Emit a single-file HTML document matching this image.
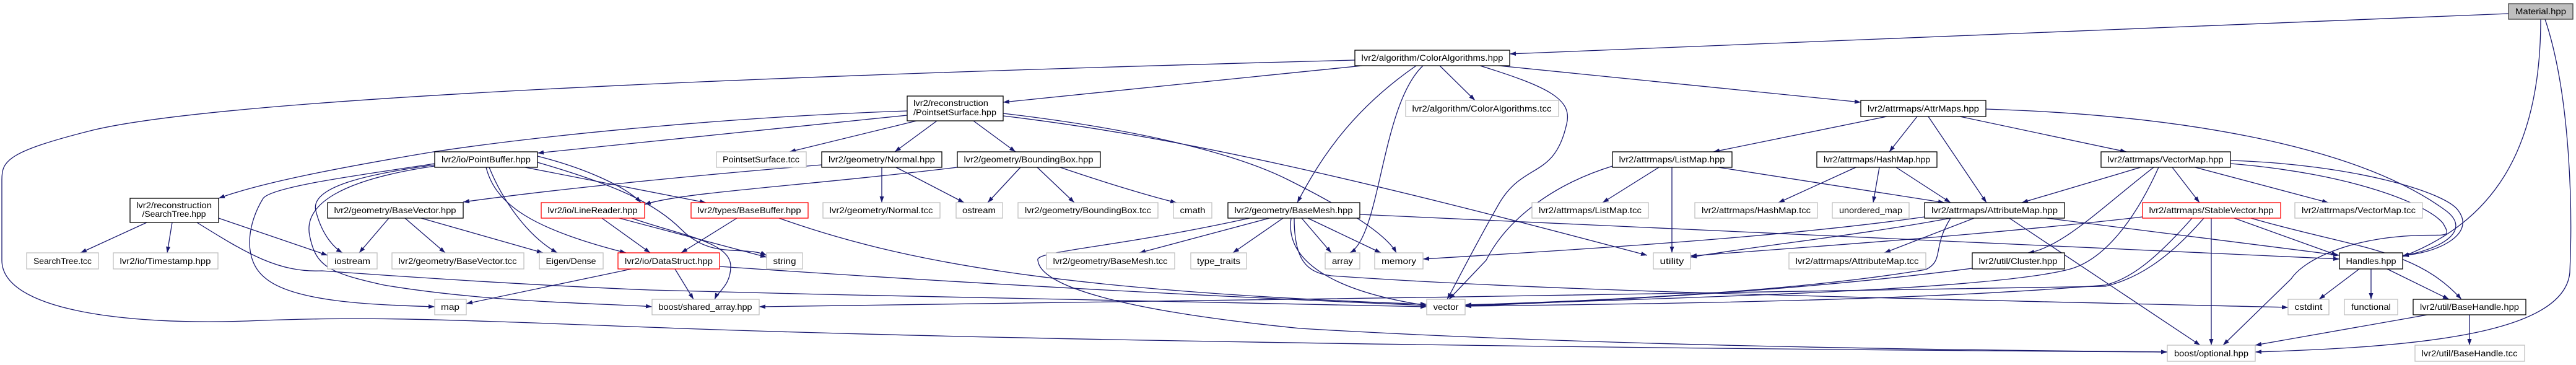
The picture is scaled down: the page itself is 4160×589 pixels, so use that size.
<!DOCTYPE html>
<html><head><meta charset="utf-8"><style>
html,body{margin:0;padding:0;background:#fff;}
svg{display:block;}
text{font-family:"Liberation Sans",sans-serif;font-size:13.5px;fill:#000;}
.e{fill:none;stroke:#191970;stroke-width:1.3;marker-end:url(#a);}
.nb{fill:#fff;stroke:#000;stroke-width:1.3;}
.ng{fill:#fff;stroke:#bfbfbf;stroke-width:1.3;}
.nr{fill:#fff;stroke:#ff0000;stroke-width:1.3;}
</style></head><body>
<svg width="4160" height="589" viewBox="0 0 4160 589" xmlns="http://www.w3.org/2000/svg">
<defs><marker id="a" markerUnits="userSpaceOnUse" markerWidth="11" markerHeight="8" refX="10" refY="3.5" orient="auto"><path d="M0,0 L10,3.5 L0,7 z" fill="#191970"/></marker></defs>

<!-- edges -->
<path class="e" d="M4051,22 L2438,87"/>
<path class="e" d="M4103,31 C4103,250 4020,360 3880,414"/>
<path class="e" d="M4110,31 C4150,150 4155,330 4150,440 C4140,540 3900,560 3642,568"/>
<path class="e" d="M2200,106 L1620,165"/>
<path class="e" d="M2188,97 C1500,115 400,150 150,210 C10,245 3,260 3,290 L3,420 C3,500 200,525 400,518 C600,510 700,515 1100,530 C1800,555 3000,565 3500,568"/>
<path class="e" d="M2325,106 L2382,162"/>
<path class="e" d="M2287,106 C2180,180 2130,260 2095,327"/>
<path class="e" d="M2298,106 C2230,170 2230,380 2180,408"/>
<path class="e" d="M2390,106 C2500,140 2540,160 2530,200 C2510,290 2460,260 2420,330 C2380,400 2350,460 2337,483"/>
<path class="e" d="M2420,106 L3005,165"/>

<path class="e" d="M1465,179 C1200,188 900,215 700,245 C550,270 420,295 353,320"/>
<path class="e" d="M1465,186 L868,247"/>
<path class="e" d="M1480,195 L1275,245"/>
<path class="e" d="M1513,195 L1445,245"/>
<path class="e" d="M1572,195 L1640,245"/>
<path class="e" d="M1620,183 C1850,210 2000,250 2080,290 C2180,340 2240,380 2255,408"/>
<path class="e" d="M1620,187 C1900,220 2200,290 2660,412"/>

<path class="e" d="M702,264 C600,280 440,300 425,320 C400,360 390,420 430,450 C480,490 620,492 702,495"/>
<path class="e" d="M702,266 C600,280 500,300 510,340 C520,380 540,400 553,408"/>
<path class="e" d="M702,268 C550,290 490,330 500,380 C510,430 530,440 620,460 C800,490 1000,490 1053,495"/>
<path class="e" d="M790,270 C810,320 850,380 900,408"/>
<path class="e" d="M785,270 C800,330 860,370 1011,408"/>
<path class="e" d="M868,252 C940,270 1010,300 1035,327"/>
<path class="e" d="M848,270 L1140,327"/>
<path class="e" d="M868,262 C1000,300 1060,330 1100,370 C1150,420 1200,395 1238,412"/>

<path class="e" d="M628,352 L580,408"/>
<path class="e" d="M654,352 L719,408"/>
<path class="e" d="M680,352 L877,408"/>
<path class="e" d="M237,359 L130,408"/>
<path class="e" d="M278,359 L270,408"/>
<path class="e" d="M353,352 L529,412"/>
<path class="e" d="M318,359 C400,410 450,440 520,437 C700,450 900,462 1050,468 C1500,480 2000,490 2304,495"/>

<path class="e" d="M972,352 L1050,408"/>
<path class="e" d="M1000,352 L1238,415"/>
<path class="e" d="M1020,352 C1100,380 1180,390 1180,430 C1180,460 1160,470 1154,483"/>
<path class="e" d="M1190,352 L1100,408"/>
<path class="e" d="M1258,352 C1450,420 1700,470 2304,491"/>
<path class="e" d="M1020,434 L753,490"/>
<path class="e" d="M1090,434 L1120,483"/>
<path class="e" d="M1162,430 C1600,460 2000,480 2304,493"/>

<path class="e" d="M1424,270 L1424,327"/>
<path class="e" d="M1447,270 L1557,327"/>
<path class="e" d="M1327,266 C1100,285 900,305 748,326"/>
<path class="e" d="M1546,270 C1300,300 1100,310 1041,330"/>
<path class="e" d="M1648,270 L1595,327"/>
<path class="e" d="M1675,270 L1735,327"/>
<path class="e" d="M1712,270 C1800,300 1870,320 1900,327"/>

<path class="e" d="M2050,352 L1840,408"/>
<path class="e" d="M2072,352 L1991,408"/>
<path class="e" d="M2102,352 L2150,408"/>
<path class="e" d="M2112,352 L2230,408"/>
<path class="e" d="M2085,352 C2075,420 2150,470 2304,493"/>
<path class="e" d="M2090,352 C2090,420 2110,440 2150,445 C2500,470 3000,480 3695,496"/>
<path class="e" d="M2196,346 L3778,418"/>
<path class="e" d="M2018,352 C1800,400 1670,405 1676,420 C1680,460 1800,500 2100,530 C2600,560 3200,565 3500,568"/>

<path class="e" d="M2679,270 L2588,327"/>
<path class="e" d="M2700,270 L2700,408"/>
<path class="e" d="M2604,268 C2500,300 2430,360 2400,420 L2340,483"/>
<path class="e" d="M2775,270 L3140,327"/>
<path class="e" d="M2997,270 L2872,327"/>
<path class="e" d="M3035,270 L3025,327"/>
<path class="e" d="M3062,270 L3150,327"/>
<path class="e" d="M3047,188 L2767,245"/>
<path class="e" d="M3096,188 L3051,245"/>
<path class="e" d="M3114,188 L3208,327"/>
<path class="e" d="M3165,188 L3434,245"/>
<path class="e" d="M3207,176 C3500,185 3800,230 3950,340 C3990,370 3950,400 3880,413"/>

<path class="e" d="M3457,270 L3265,327"/>
<path class="e" d="M3478,270 C3400,330 3330,400 3275,408"/>
<path class="e" d="M3486,270 C3450,350 3400,420 3340,435 C3200,470 2700,480 2366,493"/>
<path class="e" d="M3508,270 L3552,327"/>
<path class="e" d="M3545,270 L3760,327"/>
<path class="e" d="M3602,259 C3800,265 3950,310 3970,340 C4000,380 3930,410 3880,412"/>
<path class="e" d="M3602,264 C3800,280 3920,330 3945,360 C3960,385 3950,378 3900,380 C3790,385 3720,420 3700,450 L3590,557"/>

<path class="e" d="M3108,350 C2900,380 2600,400 2298,418"/>
<path class="e" d="M3150,352 C3000,380 2850,395 2730,415"/>
<path class="e" d="M3188,352 L3043,408"/>
<path class="e" d="M3305,352 L3778,412"/>
<path class="e" d="M3245,352 L3553,557"/>
<path class="e" d="M3150,352 C3120,400 3140,420 3110,435 C2900,470 2600,485 2366,492"/>

<path class="e" d="M3460,350 C3200,380 2900,400 2730,413"/>
<path class="e" d="M3540,352 C3480,420 3440,450 3400,460 C3100,485 2700,490 2366,494"/>
<path class="e" d="M3608,352 L3775,412"/>
<path class="e" d="M3635,352 C3800,400 3900,400 3975,483"/>
<path class="e" d="M3571,352 L3571,557"/>
<path class="e" d="M3559,352 C3500,420 3450,450 3400,462 C3000,472 1500,490 1226,495"/>
<path class="e" d="M3185,433 C2900,470 2600,485 2366,494"/>

<path class="e" d="M3810,434 L3745,483"/>
<path class="e" d="M3829,434 L3829,483"/>
<path class="e" d="M3855,434 L3955,483"/>
<path class="e" d="M3920,508 L3642,557"/>
<path class="e" d="M3988,508 L3988,557"/>

<!-- nodes -->
<rect x="4051" y="6" width="104" height="25" fill="#bfbfbf" stroke="#404040" stroke-width="1.3"/>
<text x="4103" y="23" text-anchor="middle" textLength="82" lengthAdjust="spacingAndGlyphs">Material.hpp</text>

<rect class="nb" x="2188" y="81" width="250" height="25"/>
<text x="2313" y="98" text-anchor="middle" textLength="229" lengthAdjust="spacingAndGlyphs">lvr2/algorithm/ColorAlgorithms.hpp</text>

<rect class="nb" x="1465" y="155" width="155" height="40"/>
<text x="1475" y="171" textLength="121" lengthAdjust="spacingAndGlyphs">lvr2/reconstruction</text>
<text x="1475" y="186" textLength="134" lengthAdjust="spacingAndGlyphs">/PointsetSurface.hpp</text>

<rect class="ng" x="2270" y="162" width="247" height="26"/>
<text x="2393" y="180" text-anchor="middle" textLength="225" lengthAdjust="spacingAndGlyphs">lvr2/algorithm/ColorAlgorithms.tcc</text>
<rect class="nb" x="3005" y="162" width="202" height="26"/>
<text x="3106" y="180" text-anchor="middle" textLength="180" lengthAdjust="spacingAndGlyphs">lvr2/attrmaps/AttrMaps.hpp</text>

<rect class="nb" x="702" y="245" width="166" height="25"/>
<text x="785" y="262" text-anchor="middle" textLength="144" lengthAdjust="spacingAndGlyphs">lvr2/io/PointBuffer.hpp</text>
<rect class="ng" x="1157" y="245" width="145" height="25"/>
<text x="1229" y="262" text-anchor="middle" textLength="124" lengthAdjust="spacingAndGlyphs">PointsetSurface.tcc</text>
<rect class="nb" x="1327" y="245" width="194" height="25"/>
<text x="1424" y="262" text-anchor="middle" textLength="172" lengthAdjust="spacingAndGlyphs">lvr2/geometry/Normal.hpp</text>
<rect class="nb" x="1546" y="245" width="231" height="25"/>
<text x="1661" y="262" text-anchor="middle" textLength="209" lengthAdjust="spacingAndGlyphs">lvr2/geometry/BoundingBox.hpp</text>
<rect class="nb" x="2604" y="245" width="193" height="25"/>
<text x="2700" y="262" text-anchor="middle" textLength="171" lengthAdjust="spacingAndGlyphs">lvr2/attrmaps/ListMap.hpp</text>
<rect class="nb" x="2934" y="245" width="194" height="25"/>
<text x="3031" y="262" text-anchor="middle" textLength="172" lengthAdjust="spacingAndGlyphs">lvr2/attrmaps/HashMap.hpp</text>
<rect class="nb" x="3393" y="245" width="209" height="25"/>
<text x="3497" y="262" text-anchor="middle" textLength="187" lengthAdjust="spacingAndGlyphs">lvr2/attrmaps/VectorMap.hpp</text>

<rect class="nb" x="210" y="320" width="143" height="39"/>
<text x="281" y="336" text-anchor="middle" textLength="122" lengthAdjust="spacingAndGlyphs">lvr2/reconstruction</text>
<text x="281" y="350" text-anchor="middle" textLength="103" lengthAdjust="spacingAndGlyphs">/SearchTree.hpp</text>

<rect class="nb" x="529" y="327" width="219" height="25"/>
<text x="638" y="344" text-anchor="middle" textLength="197" lengthAdjust="spacingAndGlyphs">lvr2/geometry/BaseVector.hpp</text>
<rect class="nr" x="874" y="327" width="167" height="25"/>
<text x="957" y="344" text-anchor="middle" textLength="145" lengthAdjust="spacingAndGlyphs">lvr2/io/LineReader.hpp</text>
<rect class="nr" x="1116" y="327" width="189" height="25"/>
<text x="1210" y="344" text-anchor="middle" textLength="167" lengthAdjust="spacingAndGlyphs">lvr2/types/BaseBuffer.hpp</text>
<rect class="ng" x="1329" y="327" width="189" height="25"/>
<text x="1423" y="344" text-anchor="middle" textLength="167" lengthAdjust="spacingAndGlyphs">lvr2/geometry/Normal.tcc</text>
<rect class="ng" x="1544" y="327" width="75" height="25"/>
<text x="1581" y="344" text-anchor="middle" textLength="54" lengthAdjust="spacingAndGlyphs">ostream</text>
<rect class="ng" x="1644" y="327" width="226" height="25"/>
<text x="1757" y="344" text-anchor="middle" textLength="204" lengthAdjust="spacingAndGlyphs">lvr2/geometry/BoundingBox.tcc</text>
<rect class="ng" x="1895" y="327" width="62" height="25"/>
<text x="1926" y="344" text-anchor="middle" textLength="41" lengthAdjust="spacingAndGlyphs">cmath</text>
<rect class="nb" x="1983" y="327" width="213" height="25"/>
<text x="2089" y="344" text-anchor="middle" textLength="191" lengthAdjust="spacingAndGlyphs">lvr2/geometry/BaseMesh.hpp</text>
<rect class="ng" x="2474" y="327" width="188" height="25"/>
<text x="2568" y="344" text-anchor="middle" textLength="166" lengthAdjust="spacingAndGlyphs">lvr2/attrmaps/ListMap.tcc</text>
<rect class="ng" x="2737" y="327" width="198" height="25"/>
<text x="2836" y="344" text-anchor="middle" textLength="176" lengthAdjust="spacingAndGlyphs">lvr2/attrmaps/HashMap.tcc</text>
<rect class="ng" x="2959" y="327" width="124" height="25"/>
<text x="3021" y="344" text-anchor="middle" textLength="102" lengthAdjust="spacingAndGlyphs">unordered_map</text>
<rect class="nb" x="3108" y="327" width="226" height="25"/>
<text x="3221" y="344" text-anchor="middle" textLength="204" lengthAdjust="spacingAndGlyphs">lvr2/attrmaps/AttributeMap.hpp</text>
<rect class="nr" x="3460" y="327" width="223" height="25"/>
<text x="3571" y="344" text-anchor="middle" textLength="201" lengthAdjust="spacingAndGlyphs">lvr2/attrmaps/StableVector.hpp</text>
<rect class="ng" x="3706" y="327" width="206" height="25"/>
<text x="3809" y="344" text-anchor="middle" textLength="184" lengthAdjust="spacingAndGlyphs">lvr2/attrmaps/VectorMap.tcc</text>

<rect class="ng" x="43" y="408" width="116" height="26"/>
<text x="101" y="426" text-anchor="middle" textLength="94" lengthAdjust="spacingAndGlyphs">SearchTree.tcc</text>
<rect class="ng" x="183" y="408" width="169" height="26"/>
<text x="267" y="426" text-anchor="middle" textLength="147" lengthAdjust="spacingAndGlyphs">lvr2/io/Timestamp.hpp</text>
<rect class="ng" x="529" y="408" width="80" height="26"/>
<text x="569" y="426" text-anchor="middle" textLength="58" lengthAdjust="spacingAndGlyphs">iostream</text>
<rect class="ng" x="633" y="408" width="213" height="26"/>
<text x="739" y="426" text-anchor="middle" textLength="191" lengthAdjust="spacingAndGlyphs">lvr2/geometry/BaseVector.tcc</text>
<rect class="ng" x="871" y="408" width="103" height="26"/>
<text x="922" y="426" text-anchor="middle" textLength="81" lengthAdjust="spacingAndGlyphs">Eigen/Dense</text>
<rect class="nr" x="998" y="408" width="164" height="26"/>
<text x="1080" y="426" text-anchor="middle" textLength="142" lengthAdjust="spacingAndGlyphs">lvr2/io/DataStruct.hpp</text>
<rect class="ng" x="1238" y="408" width="58" height="26"/>
<text x="1267" y="426" text-anchor="middle" textLength="37" lengthAdjust="spacingAndGlyphs">string</text>
<rect class="ng" x="1690" y="408" width="207" height="26"/>
<text x="1793" y="426" text-anchor="middle" textLength="185" lengthAdjust="spacingAndGlyphs">lvr2/geometry/BaseMesh.tcc</text>
<rect class="ng" x="1923" y="408" width="90" height="26"/>
<text x="1968" y="426" text-anchor="middle" textLength="70" lengthAdjust="spacingAndGlyphs">type_traits</text>
<rect class="ng" x="2140" y="408" width="56" height="26"/>
<text x="2168" y="426" text-anchor="middle" textLength="34" lengthAdjust="spacingAndGlyphs">array</text>
<rect class="ng" x="2220" y="408" width="78" height="26"/>
<text x="2259" y="426" text-anchor="middle" textLength="56" lengthAdjust="spacingAndGlyphs">memory</text>
<rect class="ng" x="2670" y="408" width="60" height="26"/>
<text x="2700" y="426" text-anchor="middle" textLength="39" lengthAdjust="spacingAndGlyphs">utility</text>
<rect class="ng" x="2889" y="408" width="221" height="26"/>
<text x="2999" y="426" text-anchor="middle" textLength="199" lengthAdjust="spacingAndGlyphs">lvr2/attrmaps/AttributeMap.tcc</text>
<rect class="nb" x="3185" y="408" width="149" height="26"/>
<text x="3259" y="426" text-anchor="middle" textLength="127" lengthAdjust="spacingAndGlyphs">lvr2/util/Cluster.hpp</text>
<rect class="nb" x="3778" y="408" width="102" height="26"/>
<text x="3829" y="426" text-anchor="middle" textLength="81" lengthAdjust="spacingAndGlyphs">Handles.hpp</text>

<rect class="ng" x="702" y="483" width="51" height="25"/>
<text x="727" y="500" text-anchor="middle" textLength="30" lengthAdjust="spacingAndGlyphs">map</text>
<rect class="ng" x="1053" y="483" width="173" height="25"/>
<text x="1139" y="500" text-anchor="middle" textLength="151" lengthAdjust="spacingAndGlyphs">boost/shared_array.hpp</text>
<rect class="ng" x="2304" y="483" width="62" height="25"/>
<text x="2335" y="500" text-anchor="middle" textLength="41" lengthAdjust="spacingAndGlyphs">vector</text>
<rect class="ng" x="3695" y="483" width="66" height="25"/>
<text x="3728" y="500" text-anchor="middle" textLength="45" lengthAdjust="spacingAndGlyphs">cstdint</text>
<rect class="ng" x="3786" y="483" width="86" height="25"/>
<text x="3829" y="500" text-anchor="middle" textLength="64" lengthAdjust="spacingAndGlyphs">functional</text>
<rect class="nb" x="3897" y="483" width="182" height="25"/>
<text x="3988" y="500" text-anchor="middle" textLength="160" lengthAdjust="spacingAndGlyphs">lvr2/util/BaseHandle.hpp</text>

<rect class="ng" x="3500" y="557" width="142" height="26"/>
<text x="3571" y="575" text-anchor="middle" textLength="120" lengthAdjust="spacingAndGlyphs">boost/optional.hpp</text>
<rect class="ng" x="3900" y="557" width="177" height="26"/>
<text x="3988" y="575" text-anchor="middle" textLength="155" lengthAdjust="spacingAndGlyphs">lvr2/util/BaseHandle.tcc</text>
</svg>
</body></html>
